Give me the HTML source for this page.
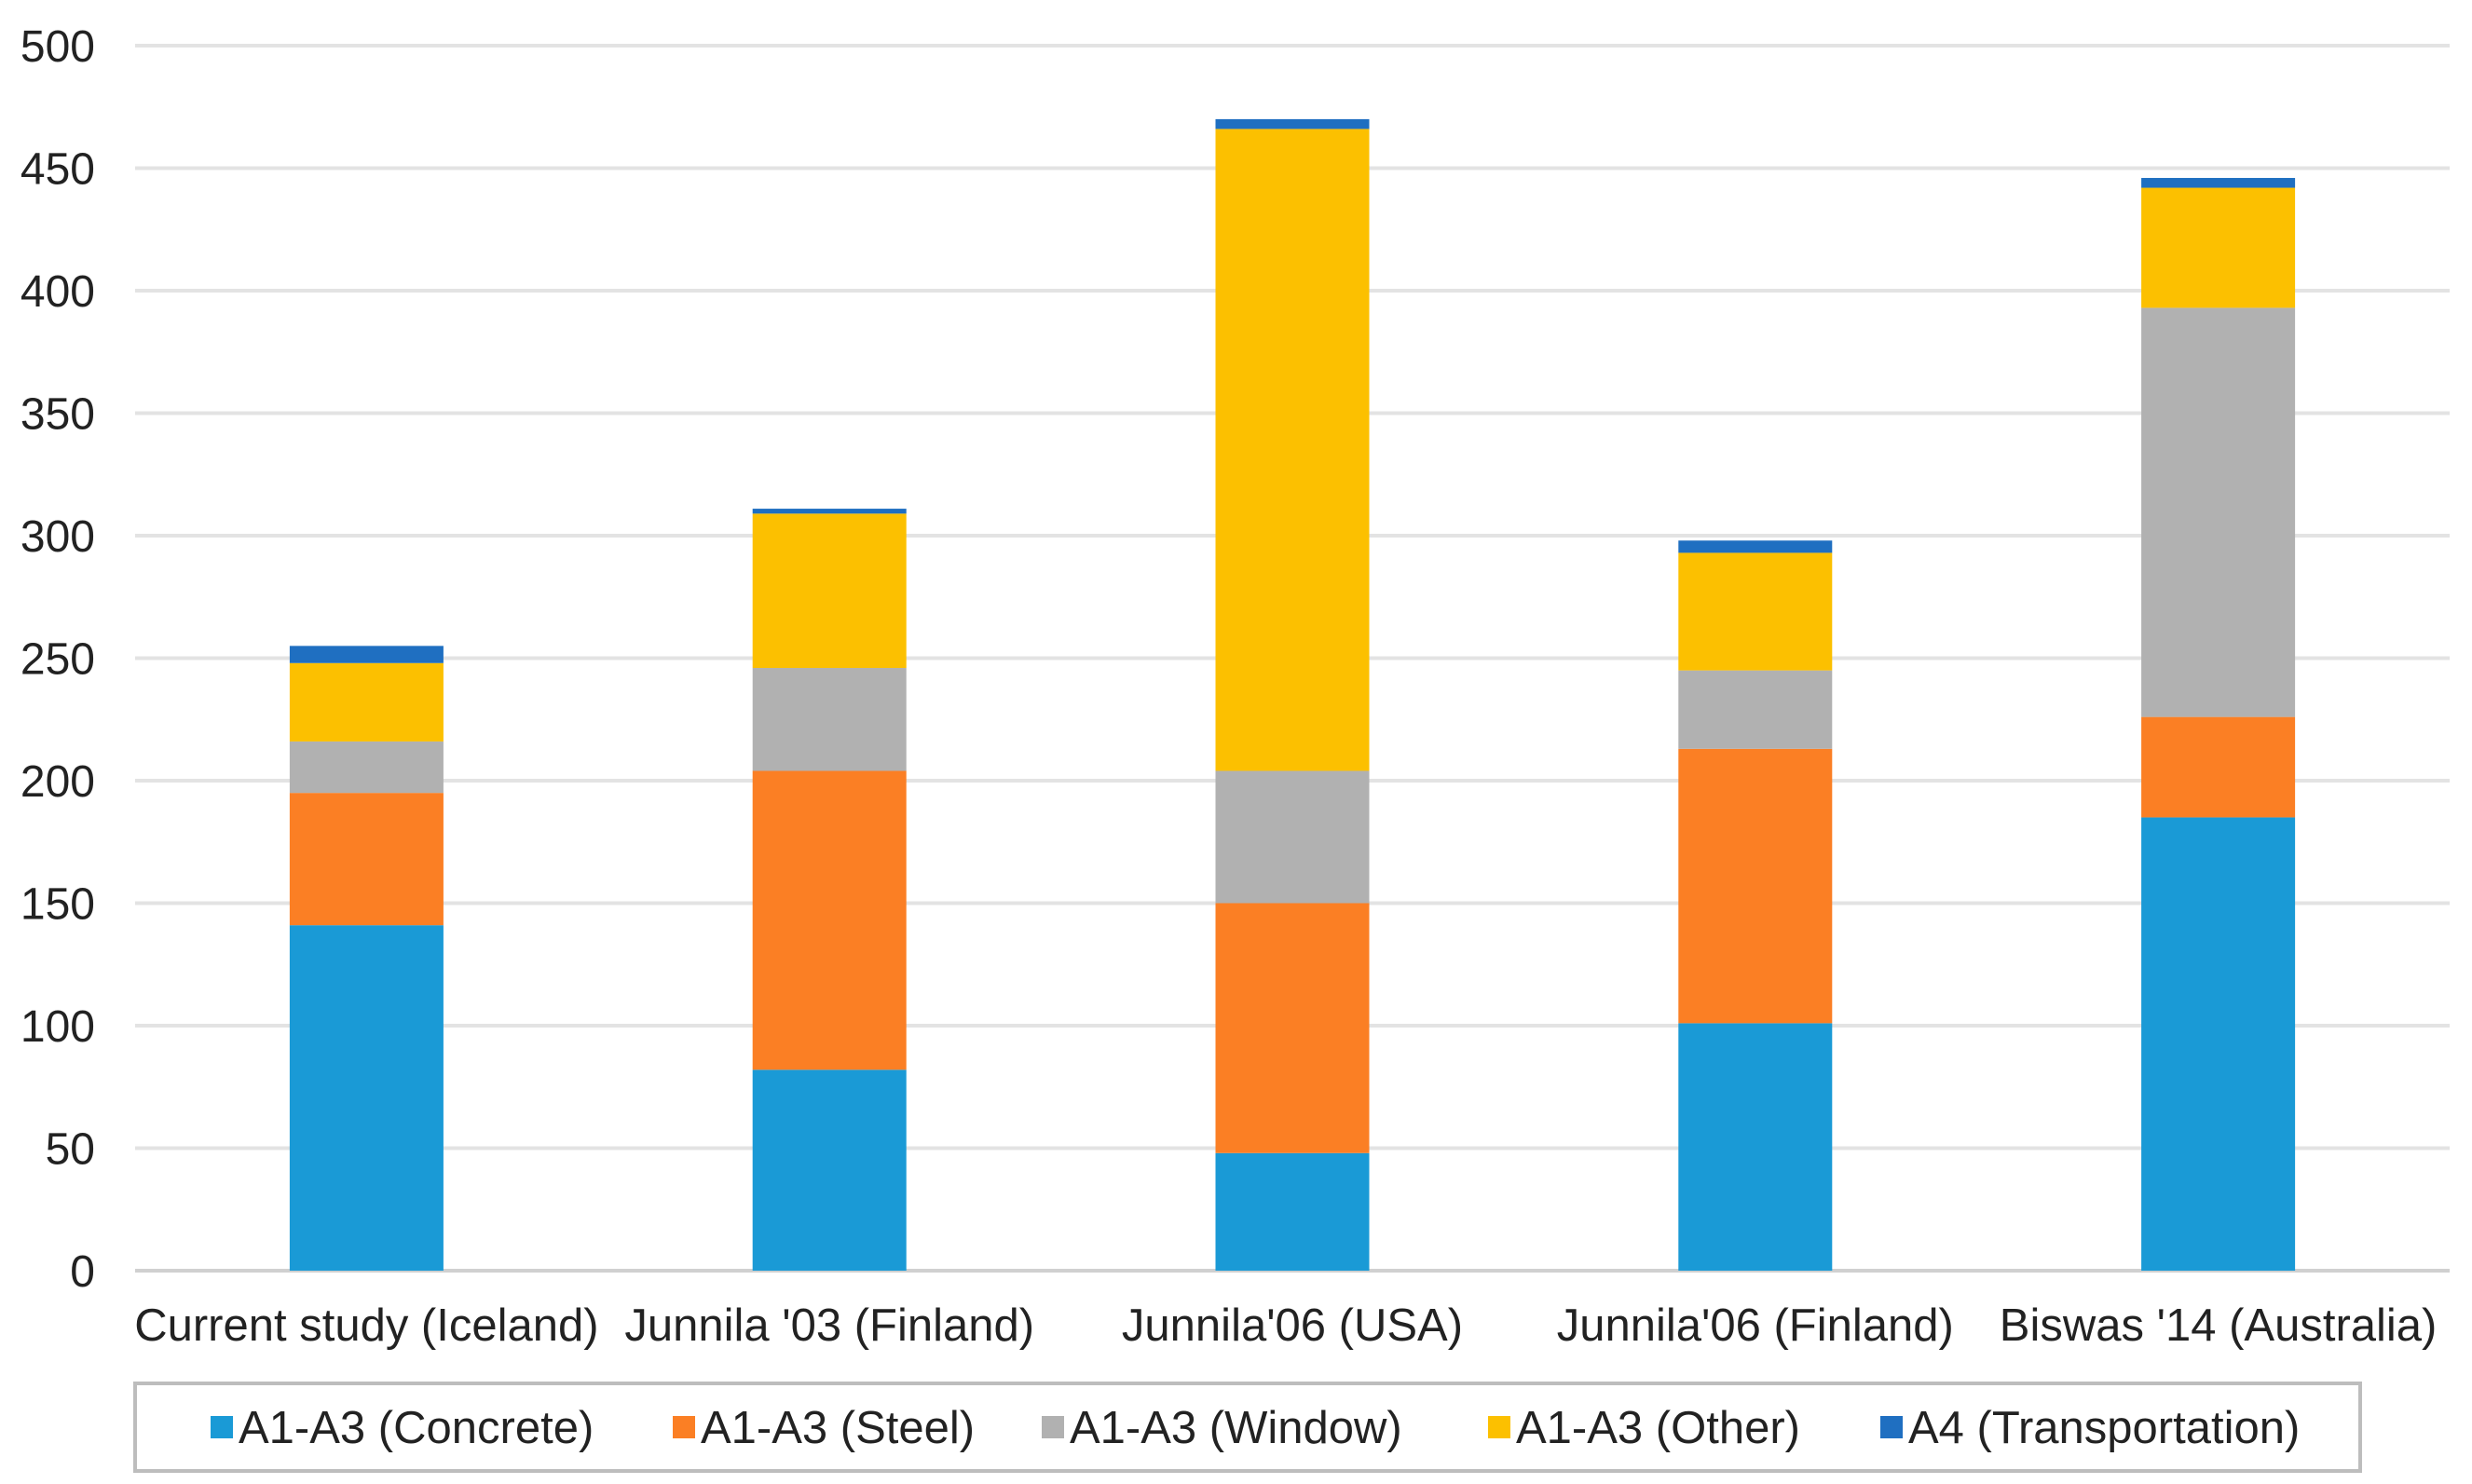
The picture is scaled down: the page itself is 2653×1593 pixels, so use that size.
<!DOCTYPE html>
<html><head><meta charset="utf-8"><style>
html,body{margin:0;padding:0;background:#fff}
svg{display:block;font-family:"Liberation Sans",Arial,sans-serif}
</style></head><body>
<svg id="chart" width="2653" height="1593" viewBox="0 0 2653 1593" xmlns="http://www.w3.org/2000/svg">
<g id="grid"></g>
<g id="yticks"></g>
<g id="bars"></g>
<g id="xlabels"></g>
<g id="legend">
<rect x="145" y="1485" width="2388" height="94" fill="#fff" stroke="#bdbdbd" stroke-width="4"/>
</g>
</svg>
<script>
const categories = ["Current study (Iceland)","Junnila '03 (Finland)","Junnila'06 (USA)","Junnila'06 (Finland)","Biswas '14 (Australia)"];
const seriesNames = ["A1-A3 (Concrete)","A1-A3 (Steel)","A1-A3 (Window)","A1-A3 (Other)","A4 (Transportation)"];
const concrete = [141, 82, 48, 101, 185];
const steel = [54, 122, 102, 112, 41];
const windowV = [21, 42, 54, 32, 167];
const other = [32, 63, 262, 48, 49];
const transport = [7, 2, 4, 5, 4];
const yTicks = [0,50,100,150,200,250,300,350,400,450,500];
const colors = ["#1a9ad6","#fb7f24","#b1b1b1","#fcc000","#1f6fc1"];
const series = [concrete, steel, windowV, other, transport];
const NS = "http://www.w3.org/2000/svg";
const x0 = 145, x1 = 2629, y0 = 1364, y500 = 49;
function yScale(v){ return y0 - (v/500)*(y0-y500); }
const band = (x1-x0)/categories.length;
function xCenter(i){ return x0 + band*(i+0.5); }
const barW = 165;
function mk(tag, attrs, parent){ const e=document.createElementNS(NS,tag); for(const k in attrs) e.setAttribute(k,attrs[k]); parent.appendChild(e); return e; }
const grid=document.getElementById('grid'), yt=document.getElementById('yticks');
yTicks.forEach(t=>{
  const l=mk('line',{x1:x0,x2:x1,y1:yScale(t),y2:yScale(t),stroke:t===0?'#d0d0d0':'#e3e3e3','stroke-width':4},grid);
  
  
  const tx=mk('text',{x:102,y:yScale(t)+17,'text-anchor':'end','font-size':48,fill:'#222'},yt);
  tx.textContent=t;
  
  
});
const bars=document.getElementById('bars');
categories.forEach((c,i)=>{
  let acc=0;
  series.forEach((s,j)=>{
    const v=s[i];
    const r=mk('rect',{x:xCenter(i)-barW/2,y:yScale(acc+v),width:barW,height:yScale(acc)-yScale(acc+v),fill:colors[j]},bars);
    
    
    acc+=v;
  });
});
const xl=document.getElementById('xlabels');
categories.forEach((c,i)=>{
  const t=mk('text',{x:xCenter(i),y:1439,'text-anchor':'middle','font-size':49,fill:'#222'},xl);
  t.textContent=c;
  
  
});
const lg=document.getElementById('legend');
const lx=[226,722,1118,1597,2018];
seriesNames.forEach((n,j)=>{
  const r=mk('rect',{x:lx[j],y:1520,width:24,height:24,fill:colors[j]},lg);
  
  
  const t=mk('text',{x:lx[j]+30,y:1549,'font-size':49,fill:'#222'},lg);
  t.textContent=n;
  
  
});
</script>
</body></html>
